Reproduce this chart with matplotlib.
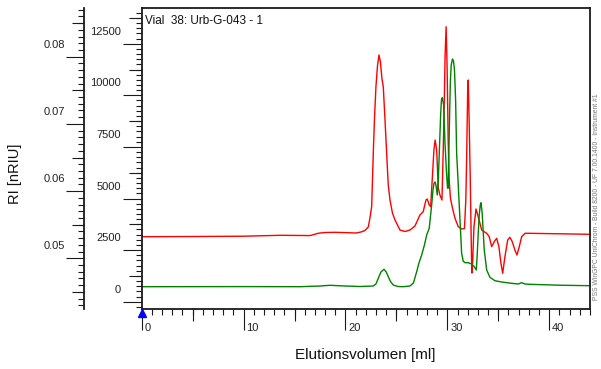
import matplotlib
matplotlib.use("Agg")
import matplotlib.pyplot as plt
from matplotlib.ticker import MultipleLocator, FixedLocator, NullLocator

plt.rcParams['font.family'] = ['Liberation Sans', 'DejaVu Sans']

# Elution volume [ml] and detector signal of the two runs
red_ml = [0, 5, 10, 13.57, 16.03, 16.52, 16.91, 17.30, 17.99, 18.97, 20.0, 21.03, 21.52, 21.91, 22.24,
          22.40, 22.57, 22.65, 22.73, 22.85, 22.99, 23.14, 23.29, 23.43, 23.58, 23.71, 23.88, 24.04, 24.20,
          24.37, 24.61, 24.86, 25.35, 25.84, 26.33, 26.82, 27.31, 27.63, 27.90, 28.03, 28.22, 28.36, 28.56,
          28.68, 28.80, 28.95, 29.11, 29.27, 29.47, 29.60, 29.70, 29.78, 29.88, 29.98, 30.08, 30.18, 30.30,
          30.50, 30.75, 31.07, 31.40, 31.68, 31.81, 31.89, 31.99, 32.05, 32.15, 32.25, 32.34, 32.40, 32.48,
          32.61, 32.81, 33.03, 33.37, 33.86, 34.11, 34.35, 34.60, 34.84, 35.06, 35.26, 35.43, 35.65, 35.92,
          36.14, 36.37, 36.63, 36.83, 37.06, 37.29, 37.62, 38.11, 41.05, 44.0]
red_val = [3149, 3159, 3173, 3217, 3207, 3203, 3256, 3314, 3353, 3362, 3348, 3328, 3377, 3450, 3619,
           4055, 4603, 5896, 7205, 8900, 10417, 11420, 11953, 11614, 10800, 10417, 8803, 7205, 5654,
           4927, 4298, 3958, 3474, 3401, 3474, 3668, 4201, 4361, 4927, 4976, 4685, 4603, 6299,
           7350, 7834, 7350, 5509, 5170, 4927, 7447, 9773, 11953, 13324, 11230, 7834, 5896, 5024,
           4540, 4041, 3634, 3522, 3547, 4927, 6865, 10112, 10741, 8479, 5896, 2989, 1391, 1923,
           3634, 4491, 4118, 3474, 3314, 3149, 2665, 2907, 3072, 2665, 1860, 1376, 2180, 2989,
           3120, 2907, 2505, 2263, 2665, 3149, 3314, 3314, 3290, 3266]

green_ml = [0, 10, 15.53, 17.5, 18.48, 19.95, 21.42, 22.73, 22.99, 23.22, 23.48, 23.78, 24.0, 24.20,
            24.42, 24.69, 25.15, 25.67, 26.33, 26.67, 26.99, 27.21, 27.48, 27.75, 27.97, 28.22, 28.46,
            28.59, 28.69, 28.79, 28.88, 29.01, 29.11, 29.20, 29.34, 29.42, 29.50, 29.64, 29.76, 29.93,
            30.02, 30.08, 30.17, 30.22, 30.30, 30.38, 30.50, 30.60, 30.70, 30.81, 30.91, 31.07, 31.24,
            31.40, 31.56, 31.73, 32.05, 32.38, 32.64, 32.84, 32.93, 33.03, 33.13, 33.23, 33.30, 33.42,
            33.52, 33.62, 33.86, 34.18, 34.67, 35.33, 36.31, 36.96, 37.29, 37.62, 38.11, 41.05, 44.0]
green_val = [727, 732, 727, 761, 795, 761, 736, 761, 858, 1134, 1439, 1570, 1439, 1211,
             979, 809, 736, 727, 761, 906, 1454, 1875, 2263, 2747, 3232, 3556, 4685,
             5412, 5736, 5799, 5654, 5170, 5896, 7108, 9046, 9773, 9884, 9530, 7752, 6139,
             5509, 5494, 7834, 9046, 10741, 11468, 11759, 11662, 11226, 9773, 7205, 5654, 3958,
             2350, 1960, 1890, 1890, 1827, 1696, 1536, 2263, 3314, 4201, 4685, 4797, 4283,
             3377, 2505, 1536, 1182, 1017, 954, 891, 858, 921, 858, 843, 799, 775]

x_ticks = [0, 10, 20, 30, 40]
x_mid_ticks = [5, 15, 25, 35]
signal_ticks = [0, 2500, 5000, 7500, 10000, 12500]
ri_ticks = [0.05, 0.06, 0.07, 0.08]
ri_mid_ticks = [0.045, 0.055, 0.065, 0.075, 0.085]

title = "Vial  38: Urb-G-043 - 1"
x_label = "Elutionsvolumen [ml]"
ri_label = "RI [nRIU]"
footer = "PSS WinGPC UniChrom - Build 8200 - UF 7.00.1400 - Instrument #1"

W, H = 601, 369
PT = 0.72  # points per pixel at 100 dpi
INK = '#1a1a1a'
fig = plt.figure(figsize=(W / 100, H / 100), dpi=100)


def box(left, top, right, bottom):
    return [left / W, 1 - bottom / H, (right - left) / W, (bottom - top) / H]


# main plot area
ax = fig.add_axes(box(141.7, 8, 590, 309.3))
ax.plot(red_ml, red_val, color='#ff0000', lw=1.0)
ax.plot(green_ml, green_val, color='#008000', lw=1.0)
ax.set_xlim(0, 44)
ax.set_ylim(-368, 14230)
for s in ax.spines.values():
    s.set_linewidth(1.3)
    s.set_color(INK)

ax.xaxis.set_major_locator(FixedLocator(x_ticks))
ax.xaxis.set_minor_locator(MultipleLocator(1))
ax.yaxis.set_major_locator(FixedLocator(signal_ticks))
ax.yaxis.set_minor_locator(MultipleLocator(250))
ax.tick_params(axis='x', which='major', direction='out', length=21 * PT, width=0.8, color=INK,
               labelbottom=False)
ax.tick_params(axis='x', which='minor', direction='out', length=6 * PT, width=0.8, color=INK)
ax.tick_params(axis='y', which='major', direction='out', length=19 * PT, width=0.8, color=INK,
               labelleft=False)
ax.tick_params(axis='y', which='minor', direction='out', length=6.5 * PT, width=0.8, color=INK)

# intermediate tick level
secx = ax.secondary_xaxis('bottom')
secx.xaxis.set_major_locator(FixedLocator(x_mid_ticks))
secx.xaxis.set_minor_locator(NullLocator())
secx.tick_params(length=12 * PT, width=0.8, color=INK, labelbottom=False)
secx.spines['bottom'].set_visible(False)

secy = ax.secondary_yaxis('left')
secy.yaxis.set_major_locator(FixedLocator([v + 1250 for v in signal_ticks]))
secy.yaxis.set_minor_locator(NullLocator())
secy.tick_params(length=13 * PT, width=0.8, color=INK, labelleft=False)
secy.spines['left'].set_visible(False)

for v in x_ticks:
    ax.annotate(str(v), xy=(v, 0), xycoords=('data', 'axes fraction'),
                xytext=(3, -19), textcoords='offset pixels',
                ha='left', va='center', fontsize=8, color='#222')
for v in signal_ticks:
    ax.annotate(str(v), xy=(0, v), xycoords=('axes fraction', 'data'),
                xytext=(-21, 12), textcoords='offset pixels',
                ha='right', va='center', fontsize=8, color='#222')

# injection marker at zero volume
ax.plot([0], [0], marker='^', ms=8 * PT, color='#0000ff', clip_on=False, zorder=10,
        transform=ax.get_xaxis_transform() + matplotlib.transforms.ScaledTranslation(
            0, -4 / 100, fig.dpi_scale_trans))

# outer RI axis
ax2 = fig.add_axes(box(84, 8, 85, 309.3))
ax2.patch.set_visible(False)
for k in ('top', 'right', 'bottom'):
    ax2.spines[k].set_visible(False)
ax2.spines['left'].set_linewidth(1.3)
ax2.spines['left'].set_color(INK)
ax2.set_xticks([])
ax2.set_ylim(0.042411, 0.087247)
ax2.yaxis.set_major_locator(FixedLocator(ri_ticks))
ax2.yaxis.set_minor_locator(MultipleLocator(0.001))
ax2.tick_params(axis='y', which='major', length=18.3 * PT, width=0.8, color=INK, labelleft=False)
ax2.tick_params(axis='y', which='minor', length=5.7 * PT, width=0.8, color=INK)
sec2 = ax2.secondary_yaxis('left')
sec2.yaxis.set_major_locator(FixedLocator(ri_mid_ticks))
sec2.yaxis.set_minor_locator(NullLocator())
sec2.tick_params(length=12.3 * PT, width=0.8, color=INK, labelleft=False)
sec2.spines['left'].set_visible(False)
for v in ri_ticks:
    ax2.annotate(f"{v:.2f}", xy=(0, v), xycoords=('axes fraction', 'data'),
                 xytext=(-19, 12), textcoords='offset pixels',
                 ha='right', va='center', fontsize=8, color='#222')

fig.text(145 / W, 1 - 20.7 / H, title, ha='left', va='center', fontsize=8.5, color='#111')
fig.text(365 / W, 1 - 355 / H, x_label, ha='center', va='center', fontsize=11, color='#111')
fig.text(15 / W, 1 - 173.5 / H, ri_label, ha='center', va='center', rotation=90, fontsize=10.5,
         color='#111')
fig.text(597 / W, 1 - 300 / H, footer, ha='center', va='bottom', rotation=90, fontsize=4.9,
         color='#777')

fig.savefig('out.png', dpi=100)
